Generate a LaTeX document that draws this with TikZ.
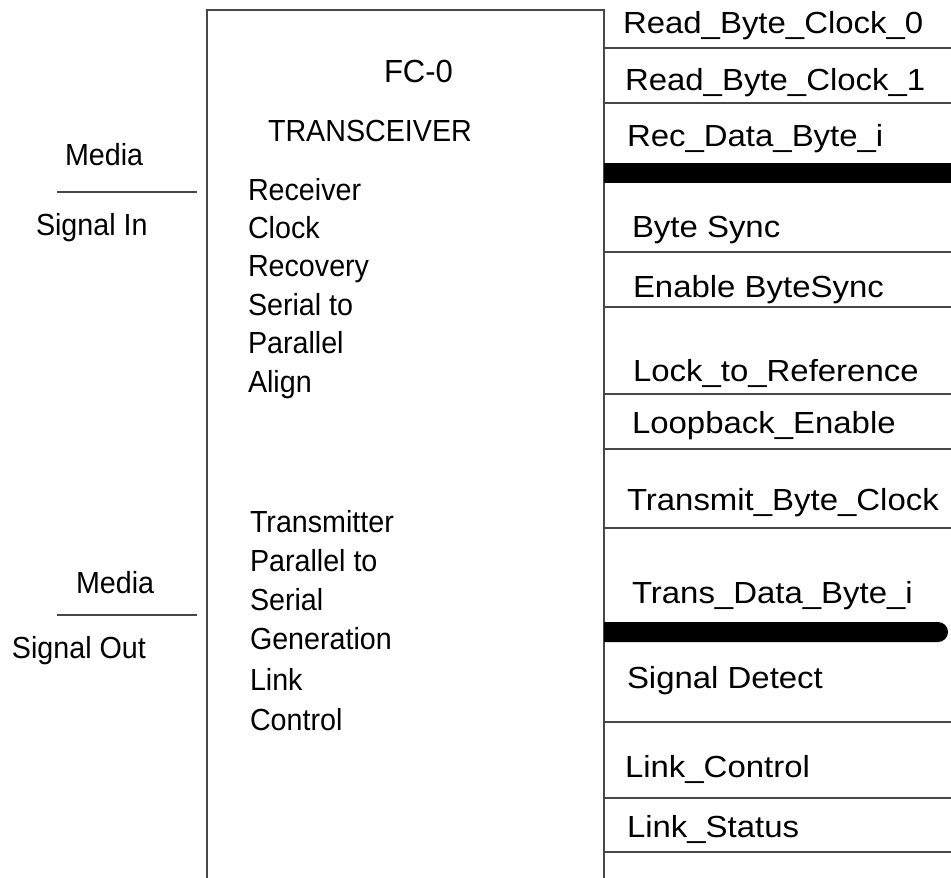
\documentclass[tikz,border=0pt]{standalone}
\usepackage{fontspec}
\usepackage{graphicx}
\setmainfont{Liberation Sans}
% signal labels are set a little wider, block texts a little narrower
\newcommand\widetext[1]{\scalebox{1.08}[1]{#1}}
\newcommand\narrowtext[1]{\scalebox{0.94}[1]{#1}}
\begin{document}
\begin{tikzpicture}[x=1pt,y=-1pt,
  frame/.style={draw=black!72, line width=1.5pt},
  sep/.style={draw=black!72, line width=1.4pt},
  txt/.style={anchor=base west, inner sep=0pt, outer sep=0pt,
              font=\fontsize{30.5}{35}\selectfont},
  bus/.style={fill=black, draw=none}]
\useasboundingbox (0,0) rectangle (951,878);

% transceiver block (open at the bottom)
\coordinate (bl) at (207,878);
\coordinate (tl) at (207,10);
\coordinate (tr) at (604,10);
\coordinate (br) at (604,878);
\draw[frame] (bl) -- (tl) -- (tr) -- (br);

% block titles
\node[txt, font=\fontsize{32}{35}\selectfont] (fc0) at (384,82) {\scalebox{0.97}[1]{FC-0}};
\node[txt] (trx) at (268,141) {\narrowtext{TRANSCEIVER}};

% receiver functions
\foreach \t [count=\i] in {Receiver,Clock,Recovery,Serial to,Parallel,Align}{
  \pgfmathsetmacro\yy{200+38.4*(\i-1)}
  \node[txt] (rx\i) at (248,\yy) {\narrowtext{\t}};
}
% transmitter functions
\foreach \t/\yy [count=\i] in {Transmitter/532,Parallel to/571,Serial/610,Generation/649,Link/690,Control/730}{
  \node[txt] (tx\i) at (250,\yy) {\narrowtext{\t}};
}

% media side
\node[txt] (media1) at (65,165) {\narrowtext{Media}};
\node[txt] (sigin) at (36,235) {\narrowtext{Signal In}};
\coordinate (inA) at (57,192);
\coordinate (inB) at (197,192);
\draw[sep] (inA) -- (inB);

\node[txt] (media2) at (76,593) {\narrowtext{Media}};
\node[txt] (sigout) at (12,658) {\narrowtext{Signal Out}};
\coordinate (outA) at (57,615);
\coordinate (outB) at (197,615);
\draw[sep] (outA) -- (outB);

% interface signals
\foreach \nm/\xx/\yy/\t in {
  rbc0/623/34/Read\_Byte\_Clock\_0,
  rbc1/625/90/Read\_Byte\_Clock\_1,
  rdb/627/146/Rec\_Data\_Byte\_i,
  bsync/632/237/Byte Sync,
  ebs/633/297/Enable ByteSync,
  ltr/633/381/Lock\_to\_Reference,
  lbe/632/433/Loopback\_Enable,
  tbc/627/510/Transmit\_Byte\_Clock,
  tdb/632/603/Trans\_Data\_Byte\_i,
  sdet/627/688/Signal Detect,
  lctl/625/777/Link\_Control,
  lsts/627/837/Link\_Status}{
  \node[txt] (\nm) at (\xx,\yy) {\widetext{\t}};
}

% separators between signals
\foreach \yy in {48,103,252,307,394,449,528,722,798,852}{
  \draw[sep] (604,\yy) -- (951,\yy);
}

% receive and transmit data buses
\fill[bus] (604,163) rectangle (951,183);
\fill[bus] (604,622) -- (938,622) arc[start angle=-90, end angle=90, radius=10] -- (604,642) -- cycle;
\end{tikzpicture}
\end{document}
